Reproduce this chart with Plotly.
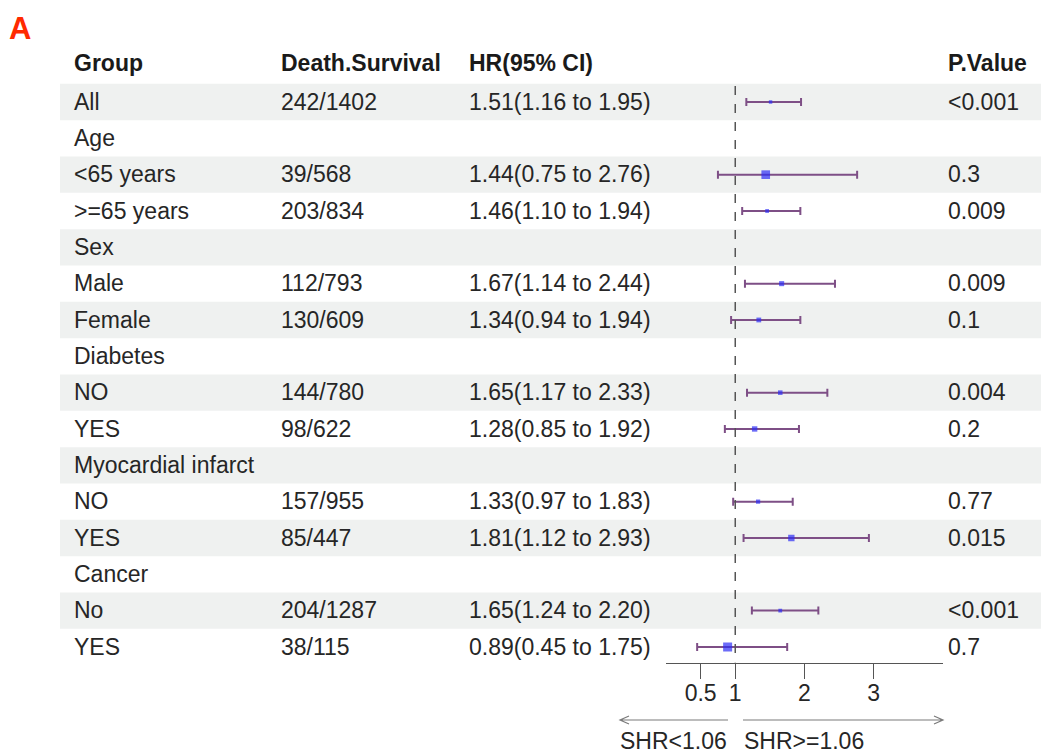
import math
import plotly.graph_objects as go

# ---------------- data ----------------
groups = ["All", "Age", "<65 years", ">=65 years", "Sex", "Male", "Female",
          "Diabetes", "NO", "YES", "Myocardial infarct", "NO", "YES",
          "Cancer", "No", "YES"]
death_survival = ["242/1402", "", "39/568", "203/834", "", "112/793", "130/609",
                  "", "144/780", "98/622", "", "157/955", "85/447",
                  "", "204/1287", "38/115"]
hr = [1.51, None, 1.44, 1.46, None, 1.67, 1.34, None, 1.65, 1.28, None,
      1.33, 1.81, None, 1.65, 0.89]
ci_low = [1.16, None, 0.75, 1.10, None, 1.14, 0.94, None, 1.17, 0.85, None,
          0.97, 1.12, None, 1.24, 0.45]
ci_high = [1.95, None, 2.76, 1.94, None, 2.44, 1.94, None, 2.33, 1.92, None,
           1.83, 2.93, None, 2.20, 1.75]
p_values = ["<0.001", "", "0.3", "0.009", "", "0.009", "0.1", "", "0.004",
            "0.2", "", "0.77", "0.015", "", "<0.001", "0.7"]
headers = ["Group", "Death.Survival", "HR(95% CI)", "", "P.Value"]
tick_vals = [0.5, 1, 2, 3]
tick_text = ["0.5", "1", "2", "3"]
ref_line = 1
left_label = "SHR<1.06"
right_label = "SHR>=1.06"

# ---------------- layout constants ----------------
W, H = 1041, 753
ROW_H = 36.33
ROW0_PX = 102          # pixel centre of first data row
HEADER_ROW = -1.07
AXIS_PX = 662.5        # pixel of forest x axis line
FONT = "Liberation Sans, Arial, Helvetica, sans-serif"
FS = 23
TXT = "#262626"
TEXT_DY = 2 / ROW_H    # small downward nudge of table text

def px_to_row(p):
    return (p - ROW0_PX) / ROW_H

rows = list(range(len(groups)))
hr_text = ["" if h is None else f"{h:.2f}({l:.2f} to {u:.2f})"
           for h, l, u in zip(hr, ci_low, ci_high)]

col_x = [74, 281, 469, None, 948]   # table column left edges (pixels)

fig = go.Figure()

# table text columns
for cx, col in zip([col_x[0], col_x[1], col_x[2], col_x[4]],
                   [groups, death_survival, hr_text, p_values]):
    fig.add_trace(go.Scatter(
        x=[cx] * len(rows), y=[r + TEXT_DY for r in rows], mode="text",
        text=col, textposition="middle right",
        textfont=dict(family=FONT, size=FS, color=TXT),
        xaxis="x", yaxis="y", hoverinfo="skip", showlegend=False))

# headers
hx = [col_x[0], col_x[1], col_x[2], col_x[4]]
ht = [headers[0], headers[1], headers[2], headers[4]]
fig.add_trace(go.Scatter(
    x=hx, y=[HEADER_ROW + TEXT_DY] * 4, mode="text",
    text=[f"<b>{t}</b>" for t in ht], textposition="middle right",
    textfont=dict(family=FONT, size=FS, color="#1a1a1a"),
    xaxis="x", yaxis="y", hoverinfo="skip", showlegend=False))

# forest plot
fx, fy, e_plus, e_minus, sizes = [], [], [], [], []
for r, h, l, u in zip(rows, hr, ci_low, ci_high):
    if h is None:
        continue
    fx.append(h)
    fy.append(r)
    e_plus.append(u - h)
    e_minus.append(h - l)
    se = (math.log(u) - math.log(l)) / 3.92
    sizes.append(max(3, 26 * se))

fig.add_trace(go.Scatter(
    x=fx, y=fy, mode="markers",
    marker=dict(symbol="square", size=sizes, color="#2e2ef5",
                line=dict(width=0)),
    error_x=dict(type="data", symmetric=False, array=e_plus,
                 arrayminus=e_minus, color="#7e4f86", thickness=2, width=4),
    xaxis="x2", yaxis="y2", hoverinfo="skip", showlegend=False))

# striped background
shapes = []
for r in rows:
    if r % 2 == 0:
        shapes.append(dict(type="rect", xref="paper", yref="y",
                           x0=60 / W, x1=1, y0=r - 0.5, y1=r + 0.5,
                           fillcolor="#eff1f0", line=dict(width=0),
                           layer="below"))

# reference dashed line
shapes.append(dict(type="line", xref="x2", yref="y2",
                   x0=ref_line, x1=ref_line, y0=px_to_row(86),
                   y1=px_to_row(AXIS_PX), line=dict(color="#555555", width=1.5,
                                                    dash="dash")))

# direction arrows (paper coordinates)
def arrow(x_tail, x_tip, y):
    yp = (H - y) / H
    d = 1 if x_tip > x_tail else -1
    hx_ = x_tip - d * 9
    return dict(type="path", xref="paper", yref="paper",
                path=(f"M {x_tail / W} {yp} L {x_tip / W} {yp} "
                      f"M {hx_ / W} {(H - y + 4) / H} L {x_tip / W} {yp} "
                      f"L {hx_ / W} {(H - y - 4) / H}"),
                line=dict(color="#7a7a7a", width=1.2))

shapes.append(arrow(728, 620, 720))
shapes.append(arrow(743, 943, 720))

annotations = [
    dict(text="<b>A</b>", xref="paper", yref="paper", x=7 / W, y=1 - 9 / H,
         xanchor="left", yanchor="top", showarrow=False,
         font=dict(family=FONT, size=31, color="#ff2a00")),
    dict(text=left_label, xref="paper", yref="paper", x=618 / W,
         y=(H - 741) / H, xanchor="left", yanchor="middle", showarrow=False,
         font=dict(family=FONT, size=FS, color=TXT)),
    dict(text=right_label, xref="paper", yref="paper", x=742 / W,
         y=(H - 741) / H, xanchor="left", yanchor="middle", showarrow=False,
         font=dict(family=FONT, size=FS, color=TXT)),
]

fig.update_layout(
    width=W, height=H, margin=dict(l=0, r=0, t=0, b=0),
    paper_bgcolor="white", plot_bgcolor="rgba(0,0,0,0)",
    xaxis=dict(domain=[0, 1], range=[0, W], visible=False, fixedrange=True),
    yaxis=dict(domain=[0, 1], range=[px_to_row(H), px_to_row(0)],
               visible=False, fixedrange=True),
    xaxis2=dict(domain=[666 / W, 943 / W], range=[0, 4], anchor="y2",
                showline=True, linecolor="#555555", linewidth=1,
                ticks="outside", ticklen=15, tickcolor="#555555", tickwidth=1,
                tickvals=tick_vals, ticktext=tick_text, ticklabelstandoff=-5,
                tickfont=dict(family=FONT, size=FS, color=TXT),
                showgrid=False, zeroline=False, fixedrange=True),
    yaxis2=dict(domain=[(H - AXIS_PX) / H, 1],
                range=[px_to_row(AXIS_PX), px_to_row(0)], visible=False,
                fixedrange=True),
    shapes=shapes, annotations=annotations,
)

fig.write_html("out.html", config={"displayModeBar": False},
               post_script="document.body.style.margin='0';"
                           "document.body.style.overflow='hidden';")
